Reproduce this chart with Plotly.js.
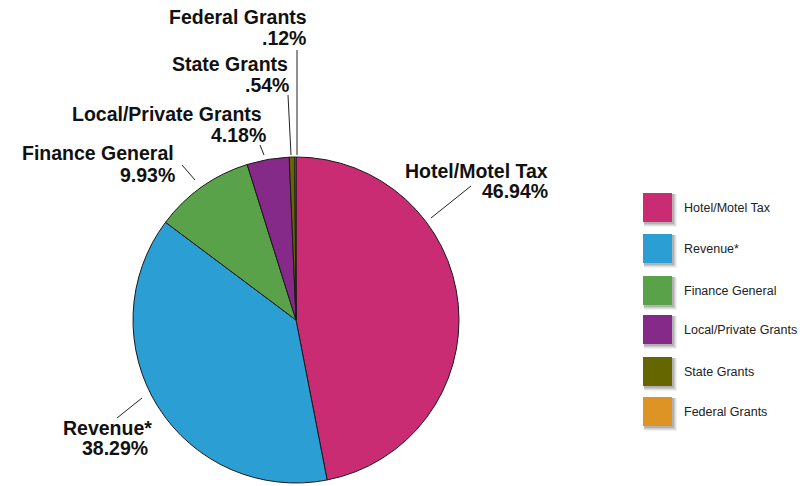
<!DOCTYPE html>
<html>
<head>
<meta charset="utf-8">
<script src="https://cdn.plot.ly/plotly-3.0.1.min.js"></script>
<style>
  html, body { margin: 0; padding: 0; background: #ffffff; }
  #chart { width: 812px; height: 486px; }
</style>
</head>
<body>
<div id="chart"></div>
<script>
// ---- data ----
const categories = ["Hotel/Motel Tax", "Revenue*", "Finance General", "Local/Private Grants", "State Grants", "Federal Grants"];
const shares = [46.94, 38.29, 9.93, 4.18, 0.54, 0.12];
const colors = ["#C92C73", "#2B9FD3", "#5AA249", "#862A89", "#666600", "#DD9424"];

// ---- layout helpers (pixels -> paper) ----
const W = 812, H = 486;
const px = x => x / W;
const py = y => 1 - y / H;

// label placement (layout only): name line, percent line, leader line
const labelPlacement = [
  { nameX: 550, nameY: 171, pctX: 550, pctY: 191, line: [[431, 218], [471, 186]] },
  { nameX: 154, nameY: 428, pctX: 150, pctY: 448, line: [[142, 398], [117, 418]] },
  { nameX: 176, nameY: 153, pctX: 177, pctY: 175, line: [[195, 180], [182, 165]] },
  { nameX: 264, nameY: 114, pctX: 268, pctY: 135, line: [[264, 155], [260, 145]] },
  { nameX: 290, nameY: 64,  pctX: 291, pctY: 85,  line: [[291, 155], [288, 95]] },
  { nameX: 309, nameY: 17,  pctX: 308, pctY: 38,  line: [[297, 155], [297, 50]] }
];

const fmtPct = v => {
  let s = v.toFixed(2);
  if (s.startsWith("0")) s = s.slice(1);
  return s + "%";
};

const FAMILY = '"Liberation Sans", Arial, Helvetica, sans-serif';
const labelFont = { family: FAMILY, size: 19.5, color: "#111111" };
const annotations = [];
const shapes = [];

categories.forEach((name, i) => {
  const p = labelPlacement[i];
  annotations.push({
    xref: "paper", yref: "paper", x: px(p.nameX), y: py(p.nameY),
    xanchor: "right", yanchor: "middle", showarrow: false,
    text: "<b>" + name + "</b>", font: labelFont
  });
  annotations.push({
    xref: "paper", yref: "paper", x: px(p.pctX), y: py(p.pctY),
    xanchor: "right", yanchor: "middle", showarrow: false,
    text: "<b>" + fmtPct(shares[i]) + "</b>", font: labelFont
  });
  shapes.push({
    type: "line", xref: "paper", yref: "paper",
    x0: px(p.line[0][0]), y0: py(p.line[0][1]),
    x1: px(p.line[1][0]), y1: py(p.line[1][1]),
    line: { color: "#222222", width: 1 }
  });
});

// custom legend with shadowed swatches
const legX = 643, legW = 29, legH = 29;
const legTop = [193, 234, 276, 315, 357, 397];
categories.forEach((name, i) => {
  const y0 = legTop[i];
  // soft shadow layers
  [[5, 0.05], [4, 0.07], [3, 0.09], [2, 0.12]].forEach(([o, a]) => {
    shapes.push({
      type: "rect", xref: "paper", yref: "paper",
      x0: px(legX + 1), x1: px(legX + legW + o),
      y0: py(y0 + 1), y1: py(y0 + legH + o),
      fillcolor: "rgba(0,0,0," + a + ")", line: { width: 0 }, layer: "below"
    });
  });
  shapes.push({
    type: "rect", xref: "paper", yref: "paper",
    x0: px(legX), x1: px(legX + legW),
    y0: py(y0), y1: py(y0 + legH),
    fillcolor: colors[i], line: { width: 0 }
  });
  annotations.push({
    xref: "paper", yref: "paper", x: px(682), y: py(y0 + legH / 2),
    xanchor: "left", yanchor: "middle", showarrow: false,
    text: name, font: { family: FAMILY, size: 12.5, color: "#222222" }
  });
});

const trace = {
  type: "pie",
  labels: categories,
  values: shares,
  sort: false,
  direction: "clockwise",
  rotation: 0,
  textinfo: "none",
  hoverinfo: "label+percent",
  marker: { colors: colors, line: { color: "#1a1a1a", width: 1 } },
  domain: { x: [px(133), px(459)], y: [py(483), py(157)] },
  showlegend: false
};

const layout = {
  width: W, height: H,
  margin: { l: 0, r: 0, t: 0, b: 0 },
  paper_bgcolor: "#ffffff",
  showlegend: false,
  annotations: annotations,
  shapes: shapes
};

Plotly.newPlot("chart", [trace], layout, { displayModeBar: false, staticPlot: true });
</script>
</body>
</html>
